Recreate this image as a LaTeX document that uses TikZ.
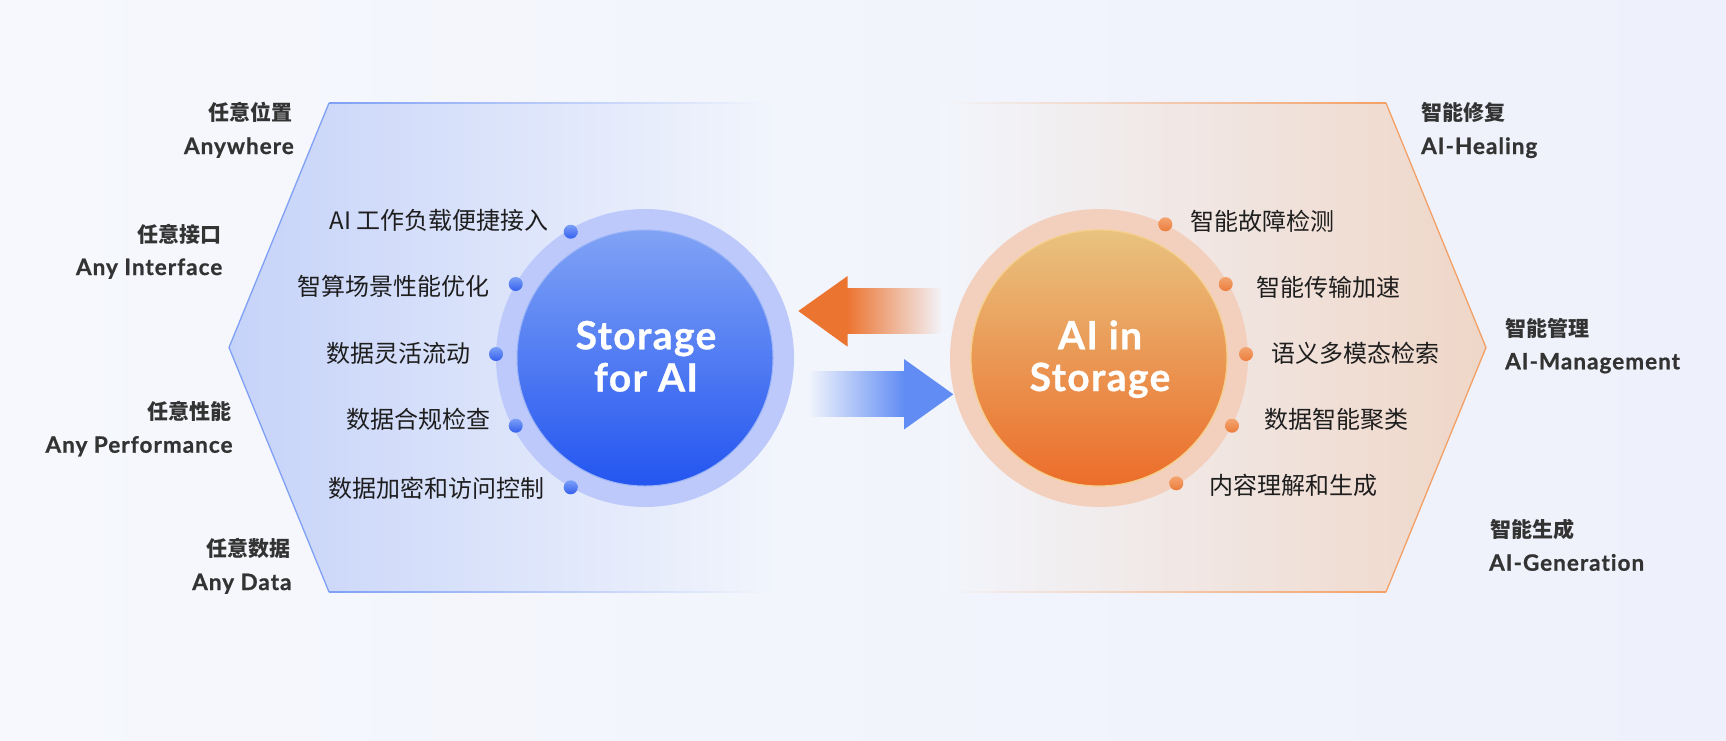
\documentclass[tikz,border=0pt]{standalone}
\usepackage{fontspec}
\setmainfont{Lato}
\newfontfamily\cjk{Noto Sans CJK SC}
\newfontfamily\lat[LetterSpace=4.5, Ligatures=NoCommon, BoldFeatures={FakeBold=0.8}]{Lato}
\newfontfamily\latc[LetterSpace=3.5, Ligatures=NoCommon, BoldFeatures={FakeBold=0.8}]{Lato}
\definecolor{bgL}{HTML}{F6F8FD}
\definecolor{bgR}{HTML}{EEF1FB}
\definecolor{bgM}{HTML}{F2F5FC}
\definecolor{hexblue}{HTML}{C6D3F9}
\definecolor{hexbedge}{HTML}{7FA0F4}
\definecolor{hexor}{HTML}{EFD6C7}
\definecolor{hexoedge}{HTML}{F3A066}
\definecolor{ringblue}{HTML}{BCC9FA}
\definecolor{coreblueT}{HTML}{80A3F5}
\definecolor{coreblueB}{HTML}{2355F0}
\definecolor{coreblueE}{HTML}{9AB4F7}
\definecolor{ringor}{HTML}{F3D0BD}
\definecolor{coreorT}{HTML}{E9C27F}
\definecolor{coreorM}{HTML}{EFA664}
\definecolor{coreorB}{HTML}{EC6D2A}
\definecolor{coreorE}{HTML}{F5CF88}
\definecolor{arrowor}{HTML}{EC7431}
\definecolor{arrowbl}{HTML}{608CF3}
\definecolor{dotbT}{HTML}{7A9FF7}
\definecolor{dotbB}{HTML}{3560EE}
\definecolor{dotoT}{HTML}{F4A470}
\definecolor{dotoB}{HTML}{EB7D3C}
\definecolor{itemtext}{HTML}{1E1E1E}
\definecolor{labeltext}{HTML}{333333}
\tikzset{
  item/.style={font=\cjk\fontsize{24}{28}\selectfont, text=itemtext, inner sep=0pt},
  capcn/.style={font=\cjk\bfseries\fontsize{21}{25}\selectfont, text=labeltext, inner sep=0pt},
  capen/.style={font=\lat\bfseries\fontsize{22.5}{26}\selectfont, text=labeltext, inner sep=0pt},
  core/.style={font=\latc\bfseries\fontsize{39}{42}\selectfont, text=white, inner sep=0pt},
  bdot/.style={circle, minimum size=14pt, inner sep=0pt, top color=dotbT, bottom color=dotbB},
  odot/.style={circle, minimum size=14pt, inner sep=0pt, top color=dotoT, bottom color=dotoB},
}
\begin{document}
\begin{tikzpicture}[x=1pt,y=-1pt]
\useasboundingbox (0,0) rectangle (1726,740);
\shade[left color=bgL, right color=bgR] (0,0) rectangle (1726,740);

% left hexagon half
\shade[left color=hexblue, right color=bgM] (780,103) -- (329,103) -- (229,347.5) -- (329,592) -- (780,592) -- cycle;
\draw[hexbedge, line width=1.3pt, line join=round] (329,103) -- (229,347.5) -- (329,592);
\shade[left color=hexbedge, right color=bgM] (329,102.4) rectangle (770,103.7);
\shade[left color=hexbedge, right color=bgM] (329,591.4) rectangle (770,592.7);

% right hexagon half
\shade[left color=bgM, right color=hexor] (940,103) -- (1386,103) -- (1486,347.5) -- (1386,592) -- (940,592) -- cycle;
\draw[hexoedge, line width=1.3pt, line join=round] (1386,103) -- (1486,347.5) -- (1386,592);
\shade[left color=bgM, right color=hexoedge] (940,102.4) rectangle (1386,103.7);
\shade[left color=bgM, right color=hexoedge] (940,591.4) rectangle (1386,592.7);

% circles
\node[circle, minimum size=298pt, inner sep=0pt, fill=ringblue] (lring) at (645,358) {};
\node[circle, minimum size=256pt, inner sep=0pt, top color=coreblueT, bottom color=coreblueB, draw=coreblueE, line width=1pt] (lcore) at (645,358) {};
\node[circle, minimum size=298pt, inner sep=0pt, fill=ringor] (rring) at (1099,358) {};
\node[circle, minimum size=256pt, inner sep=0pt, top color=coreorT, middle color=coreorM, bottom color=coreorB, draw=coreorE, line width=1.2pt] (rcore) at (1099,358) {};

\node[core, anchor=base] (sfa1) at (646,349.3) {Storage};
\node[core, anchor=base] (sfa2) at (646,391.5) {for AI};
\node[core, anchor=base] (ais1) at (1100,349.3) {AI in};
\node[core, anchor=base] (ais2) at (1100,391) {Storage};

% arrows
\fill[arrowor] (798.3,311) -- (847.6,276) -- (847.6,346.7) -- cycle;
\shade[left color=arrowor, right color=bgM] (847,288.3) rectangle (943,333.3);
\shade[left color=bgM, right color=arrowbl] (808,371.7) rectangle (904.6,416.7);
\fill[arrowbl] (953.3,394.3) -- (904,359) -- (904,429.5) -- cycle;

% dots left
\node[bdot] (bd1) at (570.7,231.7) {};
\node[bdot] (bd2) at (515.7,284) {};
\node[bdot] (bd3) at (496,354) {};
\node[bdot] (bd4) at (515.7,425.7) {};
\node[bdot] (bd5) at (570.7,487.3) {};
% dots right
\node[odot] (od1) at (1165.3,224.3) {};
\node[odot] (od2) at (1225.7,284) {};
\node[odot] (od3) at (1246,354) {};
\node[odot] (od4) at (1232,425.7) {};
\node[odot] (od5) at (1176.3,483.3) {};

% items left
\node[item, anchor=base east] (li1) at (549,229.5) {AI 工作负载便捷接入};
\node[item, anchor=base east] (li2) at (490,295) {智算场景性能优化};
\node[item, anchor=base east] (li3) at (470.7,362.5) {数据灵活流动};
\node[item, anchor=base east] (li4) at (490.7,428.5) {数据合规检查};
\node[item, anchor=base east] (li5) at (545,497) {数据加密和访问控制};
% items right
\node[item, anchor=base west] (ri1) at (1190.7,230) {智能故障检测};
\node[item, anchor=base west] (ri2) at (1256.7,296) {智能传输加速};
\node[item, anchor=base west] (ri3) at (1271,362) {语义多模态检索};
\node[item, anchor=base west] (ri4) at (1264,428) {数据智能聚类};
\node[item, anchor=base west] (ri5) at (1209.3,494) {内容理解和生成};

% outer labels left
\node[capcn, anchor=base east] (l1c) at (293,120.7) {任意位置};
\node[capen, anchor=base east] (l1e) at (294,154) {Anywhere};
\node[capcn, anchor=base east] (l2c) at (221.5,242) {任意接口};
\node[capen, anchor=base east] (l2e) at (222.5,275) {Any Interface};
\node[capcn, anchor=base east] (l3c) at (231.7,419.7) {任意性能};
\node[capen, anchor=base east] (l3e) at (232.7,452.7) {Any Performance};
\node[capcn, anchor=base east] (l4c) at (290.7,556.3) {任意数据};
\node[capen, anchor=base east] (l4e) at (291.7,590) {Any Data};
% outer labels right
\node[capcn, anchor=base west] (r1c) at (1421.5,120.7) {智能修复};
\node[capen, anchor=base west] (r1e) at (1421,154) {AI-Healing};
\node[capcn, anchor=base west] (r2c) at (1505,336.3) {智能管理};
\node[capen, anchor=base west] (r2e) at (1505,369.3) {AI-Management};
\node[capcn, anchor=base west] (r3c) at (1490,537.3) {智能生成};
\node[capen, anchor=base west] (r3e) at (1489,570.7) {AI-Generation};
\end{tikzpicture}
\end{document}
